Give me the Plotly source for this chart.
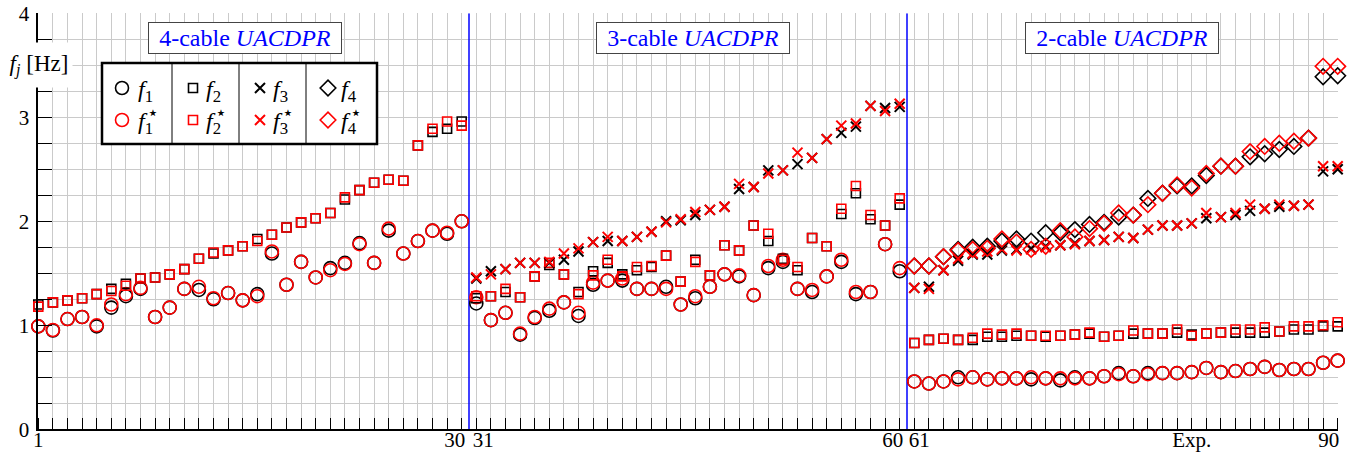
import plotly.graph_objects as go

# ---------------- data ----------------
exp = list(range(1, 91))
N = None

f1 = [0.99, 0.95, 1.06, 1.08, 0.99, 1.17, 1.28, 1.35, 1.08, 1.17,
      1.35, 1.34, 1.25, 1.31, 1.24, 1.30, 1.69, 1.39, 1.61, 1.46,
      1.55, 1.60, 1.79, 1.60, 1.91, 1.69, 1.81, 1.91, 1.88, 2.00,
      1.21, 1.05, 1.12, 0.91, 1.07, 1.14, 1.22, 1.09, 1.39, 1.43,
      1.43, 1.35, 1.35, 1.37, 1.20, 1.26, 1.37, 1.49, 1.47, 1.29,
      1.55, 1.61, 1.35, 1.32, 1.47, 1.61, 1.30, 1.32, 1.78, 1.52,
      0.46, 0.44, 0.46, 0.50, 0.50, 0.48, 0.49, 0.49, 0.48, 0.49,
      0.47, 0.50, 0.49, 0.51, 0.54, 0.51, 0.54, 0.54, 0.54, 0.55,
      0.59, 0.55, 0.56, 0.58, 0.60, 0.57, 0.58, 0.58, 0.64, 0.66]
f1s = [0.99, 0.955, 1.06, 1.08, 1.00, 1.20, 1.30, 1.36, 1.08, 1.17,
       1.35, 1.37, 1.26, 1.31, 1.24, 1.28, 1.71, 1.39, 1.61, 1.46,
       1.53, 1.59, 1.78, 1.60, 1.93, 1.69, 1.81, 1.91, 1.89, 2.00,
       1.27, 1.05, 1.12, 0.92, 1.08, 1.16, 1.22, 1.12, 1.41, 1.43,
       1.45, 1.35, 1.35, 1.35, 1.20, 1.28, 1.37, 1.49, 1.48, 1.29,
       1.57, 1.63, 1.35, 1.34, 1.47, 1.63, 1.32, 1.32, 1.78, 1.55,
       0.46, 0.44, 0.46, 0.48, 0.50, 0.48, 0.49, 0.49, 0.50, 0.49,
       0.49, 0.49, 0.49, 0.51, 0.53, 0.51, 0.53, 0.54, 0.54, 0.55,
       0.59, 0.55, 0.56, 0.58, 0.60, 0.57, 0.58, 0.58, 0.64, 0.66]

f2 = [1.20, 1.22, 1.24, 1.26, 1.30, 1.35, 1.40, 1.45, 1.46, 1.49,
      1.54, 1.64, 1.69, 1.72, 1.76, 1.83, 1.87, 1.94, 1.99, 2.03,
      2.08, 2.21, 2.30, 2.37, 2.40, 2.39, 2.73, 2.86, 2.89, 2.96,
      1.26, 1.28, 1.32, 1.27, 1.47, 1.58, 1.49, 1.32, 1.52, 1.60,
      1.49, 1.53, 1.56, 1.67, 1.42, 1.63, 1.48, 1.77, 1.72, 1.96,
      1.81, 1.64, 1.53, 1.84, 1.76, 2.07, 2.27, 2.02, 1.96, 2.16,
      0.83, 0.86, 0.87, 0.86, 0.86, 0.89, 0.89, 0.90, 0.90, 0.89,
      0.90, 0.91, 0.92, 0.89, 0.90, 0.92, 0.92, 0.92, 0.93, 0.91,
      0.92, 0.93, 0.93, 0.93, 0.93, 0.94, 0.96, 0.96, 0.99, 0.99]
f2s = [1.18, 1.22, 1.24, 1.26, 1.30, 1.33, 1.38, 1.45, 1.46, 1.49,
       1.54, 1.64, 1.70, 1.72, 1.76, 1.81, 1.87, 1.94, 1.99, 2.03,
       2.08, 2.23, 2.30, 2.37, 2.40, 2.39, 2.73, 2.89, 2.96, 2.92,
       1.28, 1.28, 1.35, 1.27, 1.47, 1.60, 1.49, 1.30, 1.48, 1.63,
       1.47, 1.56, 1.57, 1.67, 1.42, 1.61, 1.48, 1.77, 1.72, 1.96,
       1.88, 1.63, 1.56, 1.84, 1.76, 2.12, 2.34, 2.06, 1.96, 2.22,
       0.83, 0.86, 0.87, 0.86, 0.88, 0.92, 0.91, 0.92, 0.90, 0.90,
       0.90, 0.91, 0.93, 0.89, 0.90, 0.95, 0.92, 0.92, 0.96, 0.90,
       0.92, 0.93, 0.96, 0.96, 0.98, 0.94, 0.99, 0.99, 1.00, 1.03]

f3 = [N] * 30 + [
      1.45, 1.52, 1.54, 1.60, 1.60, 1.60, 1.63, 1.71, 1.80, 1.81,
      1.81, 1.85, 1.90, 2.00, 2.01, 2.06, 2.11, 2.14, 2.31, 2.33,
      2.49, 2.49, 2.55, 2.61, 2.79, 2.85, 2.91, 3.11, 3.09, 3.10,
      1.36, 1.37, 1.53, 1.62, 1.68, 1.68, 1.72, 1.73, 1.74, 1.76,
      1.77, 1.79, 1.81, 1.82, 1.85, 1.84, 1.92, 1.96, 1.96, 1.98,
      2.03, 2.04, 2.06, 2.10, 2.12, 2.14, 2.15, 2.16, 2.48, 2.50]
f3s = [N] * 30 + [
       1.46, 1.49, 1.54, 1.60, 1.60, 1.61, 1.69, 1.74, 1.80, 1.85,
       1.81, 1.85, 1.90, 1.99, 2.02, 2.09, 2.11, 2.14, 2.36, 2.33,
       2.46, 2.49, 2.66, 2.61, 2.79, 2.92, 2.94, 3.11, 3.06, 3.13,
       1.36, 1.35, 1.53, 1.64, 1.69, 1.71, 1.73, 1.72, 1.73, 1.75,
       1.77, 1.78, 1.81, 1.82, 1.85, 1.84, 1.92, 1.96, 1.96, 1.98,
       2.08, 2.04, 2.08, 2.16, 2.12, 2.16, 2.15, 2.16, 2.53, 2.53]

f4 = [N] * 60 + [
      1.57, 1.57, 1.66, 1.73, 1.75, 1.76, 1.81, 1.83, 1.81, 1.89,
      1.89, 1.92, 1.97, 1.99, 2.04, 2.06, 2.22, 2.27, 2.34, 2.34,
      2.44, 2.53, 2.53, 2.62, 2.65, 2.69, 2.72, 2.80, 3.39, 3.40]
f4s = [N] * 60 + [
       1.57, 1.57, 1.66, 1.72, 1.73, 1.74, 1.83, 1.80, 1.73, 1.76,
       1.91, 1.85, 1.93, 1.98, 2.08, 2.06, 2.16, 2.27, 2.35, 2.32,
       2.46, 2.53, 2.53, 2.67, 2.72, 2.75, 2.77, 2.80, 3.49, 3.49]

tick_vals = [1, 30, 31, 60, 61, 80, 90]
tick_text = ["1", "30", "31", "60", "61", "Exp.", "90"]
y_ticks = [0, 1, 2, 3, 4]
section_x = [15.15, 45.85, 75.25]
section_labels = ["4-cable <i>UACDPR</i>", "3-cable <i>UACDPR</i>", "2-cable <i>UACDPR</i>"]
section_bounds = [30.5, 60.5]

# ---------------- geometry ----------------
W, H = 1357, 454
PX_X1, PX_X90 = 38.3, 1337.7
PX_Y0, PX_Y4 = 429.3, 13.3
PX_PER_X = (PX_X90 - PX_X1) / 89
FONT = "Liberation Serif"
GRID = "#cacaca"
CLEAR = "rgba(0,0,0,0)"

# small horizontal nudges (px) of tick labels so neighbouring labels do not collide
label_nudge_px = [0, -7, 7, -7, 5, 0, -9]
label_pos = [v + d / PX_PER_X for v, d in zip(tick_vals, label_nudge_px)]

fig = go.Figure()

series = [
    (f1, "circle-open", "black", 13, 1.6), (f1s, "circle-open", "red", 13, 1.6),
    (f2, "square-open", "black", 9, 1.6), (f2s, "square-open", "red", 9, 1.6),
    (f3, "x-thin-open", "black", 10, 2.0), (f3s, "x-thin-open", "red", 10, 2.0),
    (f4, "diamond-open", "black", 12, 1.6), (f4s, "diamond-open", "red", 12, 1.6),
]
for ys, sym, col, sz, lw in series:
    fig.add_trace(go.Scatter(
        x=exp, y=ys, mode="markers", showlegend=False, cliponaxis=False,
        marker=dict(symbol=sym, size=sz, color=col, line=dict(color=col, width=lw)),
        xaxis="x", yaxis="y"))

# ---------------- custom legend (overlay pixel axes) ----------------
LEG = dict(x0=102, x1=377, y0=63, y1=144)
col_sep = [172, 239, 306]
sym_x = [122, 193, 260, 328]
txt_x = [136, 204, 271, 339]
rows_y = [88, 120]
leg_syms = [("circle-open", 13, 1.6), ("square-open", 9, 1.6),
            ("x-thin-open", 10, 2.0), ("diamond-open", 12, 1.6)]
for r, col in enumerate(["black", "red"]):
    for c, (sym, sz, lw) in enumerate(leg_syms):
        fig.add_trace(go.Scatter(
            x=[sym_x[c]], y=[rows_y[r]], mode="markers", showlegend=False,
            cliponaxis=False, hoverinfo="skip",
            marker=dict(symbol=sym, size=sz, color=col, line=dict(color=col, width=lw)),
            xaxis="x2", yaxis="y2"))

shapes = []
shapes.append(dict(type="rect", xref="x2", yref="y2", layer="between",
                   x0=LEG["x0"], x1=LEG["x1"], y0=LEG["y0"], y1=LEG["y1"],
                   line=dict(color="black", width=2.5), fillcolor="white"))
for sx in col_sep:
    shapes.append(dict(type="line", xref="x2", yref="y2", layer="between",
                       x0=sx, x1=sx, y0=LEG["y0"], y1=LEG["y1"],
                       line=dict(color="black", width=1)))
for bx in section_bounds:
    shapes.append(dict(type="line", xref="x", yref="y", layer="between",
                       x0=bx, x1=bx, y0=0, y1=4, line=dict(color="blue", width=1.5)))

annotations = []
for c in range(4):
    for r in range(2):
        annotations.append(dict(xref="x2", yref="y2", x=txt_x[c], y=rows_y[r] + 3,
                                xanchor="left", yanchor="middle", showarrow=False,
                                text=f"<i>f</i><sub>{c+1}</sub>",
                                font=dict(family=FONT, size=24, color="black")))
    annotations.append(dict(xref="x2", yref="y2", x=txt_x[c] + 9, y=rows_y[1] - 8,
                            xanchor="left", yanchor="middle", showarrow=False,
                            text="⋆", font=dict(family="DejaVu Sans", size=19, color="black")))

for sx, lab in zip(section_x, section_labels):
    annotations.append(dict(xref="x", yref="paper", x=sx, y=1 - 38 / H,
                            xanchor="center", yanchor="middle", showarrow=False,
                            text=lab, font=dict(family=FONT, size=24, color="blue"),
                            bgcolor="white", bordercolor="#444444", borderwidth=1,
                            borderpad=3, width=186, height=24))

annotations.append(dict(xref="paper", yref="paper", x=39 / W, y=1 - 65 / H,
                        xanchor="center", yanchor="middle", showarrow=False,
                        text="<i>f</i><sub><i>j</i></sub> [Hz]",
                        font=dict(family=FONT, size=23, color="black"),
                        bgcolor="white", width=66, height=44, borderpad=0))

axis_common = dict(showline=True, linecolor="black", linewidth=1.6, zeroline=False,
                   tickcolor="black", tickwidth=1.2,
                   gridcolor=GRID, gridwidth=1, automargin=False,
                   tickfont=dict(family=FONT, size=21, color="black"))

fig.update_layout(
    width=W, height=H, margin=dict(l=0, r=0, t=0, b=0),
    template="none", paper_bgcolor="white", plot_bgcolor=CLEAR,
    showlegend=False,
    xaxis=dict(domain=[PX_X1 / W, PX_X90 / W], range=[1, 90],
               tickmode="array", tickvals=label_pos, ticktext=tick_text,
               ticks="", showgrid=False, tickangle=0, ticklabelstandoff=-9,
               minor=dict(tick0=1, dtick=1, ticks="inside", ticklen=12, tickwidth=1.2,
                          tickcolor="black", showgrid=True, gridcolor=GRID, gridwidth=1),
               **axis_common),
    yaxis=dict(domain=[(H - PX_Y0) / H, (H - PX_Y4) / H], range=[0, 4],
               tickmode="array", tickvals=y_ticks, ticks="inside", ticklen=14,
               ticklabelstandoff=3, showgrid=True,
               minor=dict(tick0=0, dtick=0.25, ticks="inside", ticklen=14, tickwidth=1.2,
                          tickcolor="black", showgrid=True, gridcolor=GRID, gridwidth=1),
               **axis_common),
    xaxis2=dict(domain=[0, 1], range=[0, W], visible=False, anchor="y2", fixedrange=True),
    yaxis2=dict(domain=[0, 1], range=[H, 0], visible=False, anchor="x2", fixedrange=True),
    shapes=shapes, annotations=annotations,
)

fig.write_html("out.html")
